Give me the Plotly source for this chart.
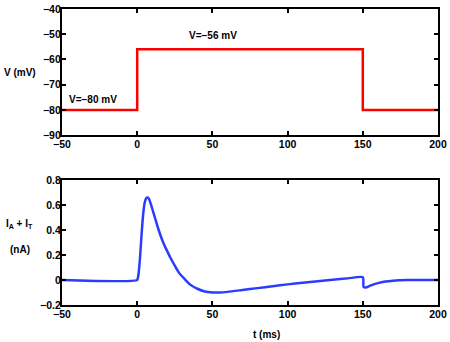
from plotly.subplots import make_subplots
import plotly.graph_objects as go

# voltage clamp protocol
t_step = [-50, 0, 0, 150, 150, 200]
v_step = [-80, -80, -56, -56, -80, -80]

# summed current I_A + I_T (nA)
t_cur = [-50, 0, 0.5, 1, 2, 3, 4, 5, 6, 7, 8, 9, 10, 12, 14, 16, 18, 20, 22, 25,
         28, 31, 35, 40, 45, 50, 55, 60, 70, 80, 90, 100, 110, 120, 130, 140, 150,
         150.5, 152, 155, 160, 165, 170, 180, 190, 200]
i_cur = [0, 0, 0.02, 0.06, 0.2, 0.38, 0.53, 0.62, 0.655, 0.66, 0.645, 0.61, 0.57,
         0.49, 0.41, 0.34, 0.28, 0.23, 0.18, 0.115, 0.055, 0.015, -0.035, -0.07,
         -0.092, -0.1, -0.1, -0.095, -0.08, -0.065, -0.05, -0.035, -0.022, -0.01,
         0.002, 0.013, 0.022, -0.055, -0.06, -0.045, -0.025, -0.012, -0.005, 0, 0, 0]

fig = make_subplots(rows=2, cols=1)

fig.add_trace(go.Scatter(x=t_step, y=v_step, mode='lines',
                         line=dict(color='#ff0000', width=2.5)), row=1, col=1)
fig.add_trace(go.Scatter(x=t_cur, y=i_cur, mode='lines',
                         line=dict(color='#2b3cff', width=2.5, shape='spline', smoothing=0.6)),
              row=2, col=1)

axis_style = dict(showline=True, linecolor='black', linewidth=2.2, mirror='allticks',
                  ticks='inside', ticklen=4, tickwidth=1.5, tickcolor='black',
                  showgrid=False, zeroline=False, automargin=False,
                  tickfont=dict(family='Liberation Sans', size=10.5, color='black', weight='bold'))

fig.update_xaxes(range=[-50, 200], tickvals=[-50, 0, 50, 100, 150, 200],
                 ticklabelstandoff=-2, **axis_style)
fig.update_yaxes(ticklabelstandoff=-3, **axis_style)
fig.update_yaxes(range=[-90, -40], tickvals=[-90, -80, -70, -60, -50, -40], row=1, col=1)
fig.update_yaxes(range=[-0.2, 0.8], tickvals=[-0.2, 0, 0.2, 0.4, 0.6, 0.8], row=2, col=1)
fig.update_layout(
    yaxis=dict(domain=[0.574, 1.0]),
    yaxis2=dict(domain=[0.0, 0.4223]),
)

txt = dict(family='Liberation Sans', size=10, color='black', weight='bold')
lab_x = -0.112
fig.add_annotation(x=lab_x, y=0.5, xref='paper', yref='y domain', text='V (mV)',
                   showarrow=False, font=txt, xanchor='center', yanchor='middle')
fig.add_annotation(x=-29.5, y=-75.7, xref='x', yref='y', text='V=\u221280 mV',
                   showarrow=False, font=txt)
fig.add_annotation(x=50.5, y=-50.7, xref='x', yref='y', text='V=\u221256 mV',
                   showarrow=False, font=txt)
fig.add_annotation(x=lab_x, y=0.65, xref='paper', yref='y2 domain',
                   text='I<sub>A</sub> + I<sub>T</sub>', showarrow=False, font=txt,
                   xanchor='center', yanchor='middle')
fig.add_annotation(x=lab_x, y=0.445, xref='paper', yref='y2 domain', text='(nA)',
                   showarrow=False, font=txt, xanchor='center', yanchor='middle')
fig.add_annotation(x=86, y=-0.1, xref='x2', yref='paper', text='t (ms)',
                   showarrow=False, font=txt, yanchor='middle')

fig.update_layout(
    width=450, height=342,
    margin=dict(l=62, r=12, t=9, b=37),
    plot_bgcolor='white', paper_bgcolor='white',
    showlegend=False,
)

fig.write_html("out.html", config=dict(displayModeBar=False),
               post_script="document.body.style.margin='0';")
